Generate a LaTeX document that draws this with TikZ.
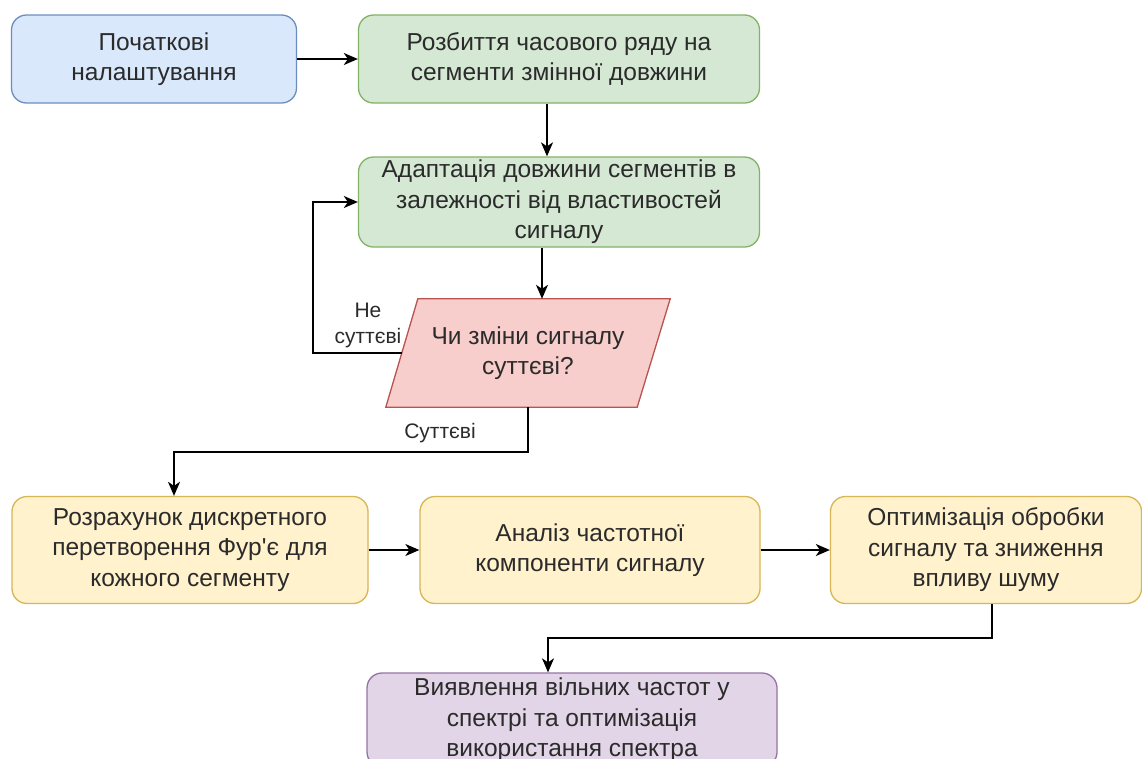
\documentclass[tikz,border=0pt]{standalone}
\usepackage{fontspec}
\setmainfont{Liberation Sans}
\usetikzlibrary{arrows.meta,calc}
\definecolor{txt}{HTML}{2B2B2B}
\definecolor{bluef}{HTML}{DAE8FC}\definecolor{bluel}{HTML}{6C8EBF}
\definecolor{greenf}{HTML}{D5E8D4}\definecolor{greenl}{HTML}{82B366}
\definecolor{redf}{HTML}{F8CECC}\definecolor{redl}{HTML}{B85450}
\definecolor{yellf}{HTML}{FFF2CC}\definecolor{yelll}{HTML}{D6B656}
\definecolor{purpf}{HTML}{E1D5E7}\definecolor{purpl}{HTML}{9673A6}
\tikzset{
  box/.style={draw, rounded corners=15pt, line width=1.3pt, inner sep=0pt,
    align=center, text=txt, font=\fontsize{24.5}{30.5}\selectfont},
  bluebox/.style={box, fill=bluef, draw=bluel},
  greenbox/.style={box, fill=greenf, draw=greenl},
  yellbox/.style={box, fill=yellf, draw=yelll},
  purpbox/.style={box, fill=purpf, draw=purpl},
  arr/.style={line width=1.5pt, -{Stealth[length=14pt,width=12pt,inset=4pt]}},
  lbl/.style={text=txt, align=center, font=\fontsize{21}{26}\selectfont, inner sep=0pt},
}
\begin{document}
\begin{tikzpicture}[x=1pt,y=-1pt]
\useasboundingbox (0,0) rectangle (1142,758);
\fill[white] (0,0) rectangle (1142,758);

\node[bluebox, minimum width=285pt, minimum height=88pt] (A) at (154,59)
  {Початкові\\налаштування};
\node[greenbox, minimum width=401pt, minimum height=88pt] (B) at (559,59)
  {Розбиття часового ряду на\\сегменти змінної довжини};
\node[greenbox, minimum width=401pt, minimum height=90pt] (C) at (559,202)
  {Адаптація довжини сегментів в\\залежності від властивостей\\сигналу};

\node[minimum width=284pt, minimum height=108pt, inner sep=0pt] (D) at (528,353) {};
\draw[fill=redf, draw=redl, line width=1.3pt]
  ([xshift=32]D.north west) -- (D.north east) -- ([xshift=-33]D.south east)
  -- (D.south west) -- cycle;
\node[text=txt, align=center, font=\fontsize{24.5}{30.5}\selectfont] (Dt) at (D.center)
  {Чи зміни сигналу\\суттєві?};

\node[yellbox, minimum width=356pt, minimum height=107pt] (E) at (190,550)
  {Розрахунок дискретного\\перетворення Фур\textquotesingle є для\\кожного сегменту};
\node[yellbox, minimum width=340pt, minimum height=107pt] (F) at (590,550)
  {Аналіз частотної\\компоненти сигналу};
\node[yellbox, minimum width=311pt, minimum height=107pt] (G) at (986,550)
  {Оптимізація обробки\\сигналу та зниження\\впливу шуму};
\node[purpbox, minimum width=410pt, minimum height=94pt] (H) at (572,720)
  {Виявлення вільних частот у\\спектрі та оптимізація\\використання спектра};

\draw[arr] (A.east) -- (B.west);
\draw[arr] ([xshift=-12]B.south) -- ([xshift=-12]C.north);
\draw[arr] ([xshift=-17]C.south) -- ([xshift=14]D.north);
\draw[arr] ([xshift=16]D.west) -- ++(-89,0) |- (C.west);
\node[lbl] (L1) at (368,325) {Не\\суттєві};
\draw[arr] (D.south) -- ++(0,45) -| ([xshift=-16]E.north);
\node[lbl] (L2) at (440,433) {Суттєві};
\draw[arr] (E.east) -- (F.west);
\draw[arr] (F.east) -- (G.west);
\draw[arr] ([xshift=6]G.south) -- ++(0,34) -| ([xshift=-24]H.north);
\end{tikzpicture}
\end{document}
